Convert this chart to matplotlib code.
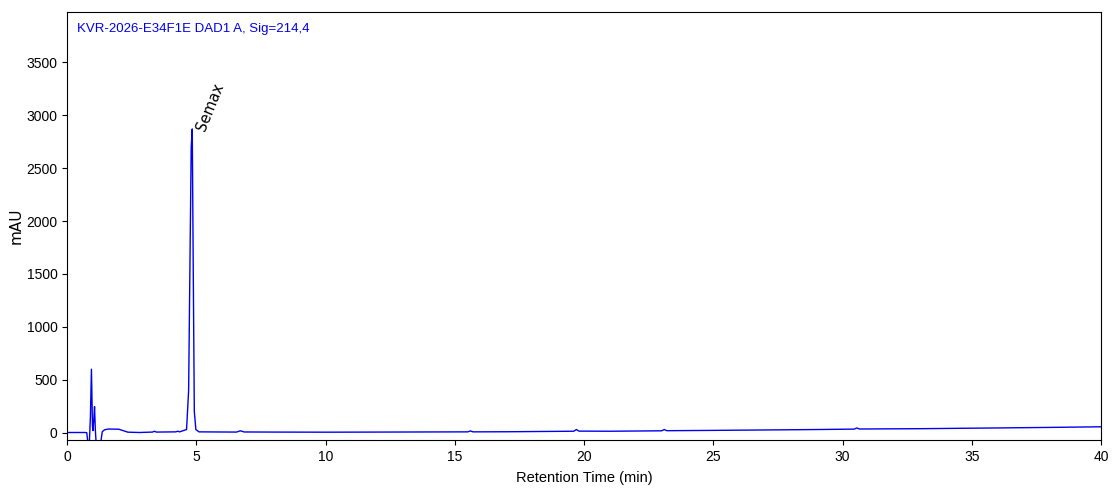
import matplotlib
matplotlib.use("Agg")
import matplotlib.pyplot as plt
import numpy as np

# chromatogram trace (time in min, signal in mAU)
rt = [0.0, 0.70, 0.76, 0.80, 0.86, 0.90, 0.94, 0.98, 1.00, 1.03, 1.06,
      1.09, 1.12, 1.30, 1.36, 1.45, 1.60, 2.00, 2.10, 2.35, 2.80,
      3.30, 3.38, 3.45, 4.20, 4.28, 4.35, 4.62, 4.70, 4.76, 4.80,
      4.84, 4.88, 4.92, 4.98, 5.10, 6.55, 6.70, 6.85, 8.0, 10.0,
      12.0, 15.5, 15.6, 15.7, 17.0, 19.6, 19.7, 19.8, 21.0, 23.0,
      23.1, 23.2, 25.0, 27.0, 29.0, 30.45, 30.55, 30.65, 33.0,
      36.0, 38.0, 40.0]
mau = [2, 2, 0, -90, -90, 150, 600, 60, 20, 120, 247,
       30, -90, -90, 10, 28, 35, 33, 25, 5, 2,
       6, 14, 6, 8, 14, 8, 30, 400, 1800, 2700,
       2870, 1500, 200, 30, 8, 6, 18, 7, 6, 5,
       6, 8, 17, 8, 9, 14, 30, 15, 14, 18,
       30, 19, 22, 26, 30, 34, 45, 35, 38,
       45, 50, 56]

peak_name = "Semax"
peak_rt = 4.84
peak_mau = 2870

title = "KVR-2026-E34F1E DAD1 A, Sig=214,4"

narrow = "Liberation Sans"

fig = plt.figure(figsize=(11.19, 4.99), dpi=100)
ax = fig.add_axes([0.06, 0.118, 0.924, 0.858])

ax.plot(rt, mau, color="#0000ee", lw=1.0)
ax.text(peak_rt + 0.05, peak_mau + 15, peak_name, rotation=68,
        ha="left", va="top", fontsize=10.5, rotation_mode="anchor")
ax.text(0.01, 0.975, title, transform=ax.transAxes, color="#0000ee",
        ha="left", va="top", fontsize=9.5, family=narrow)

ax.set_xlim(0, 40)
ax.set_ylim(-70, 3975)
ax.set_xticks(np.arange(0, 41, 5))
ax.set_yticks(np.arange(0, 3501, 500))
for lab in ax.get_xticklabels() + ax.get_yticklabels():
    lab.set_family(narrow)
    lab.set_fontsize(10)
ax.set_xlabel("Retention Time (min)", family=narrow, fontsize=10.5, labelpad=5)
ax.set_ylabel("mAU", fontsize=11, labelpad=2)

fig.savefig("out.png", dpi=100)
